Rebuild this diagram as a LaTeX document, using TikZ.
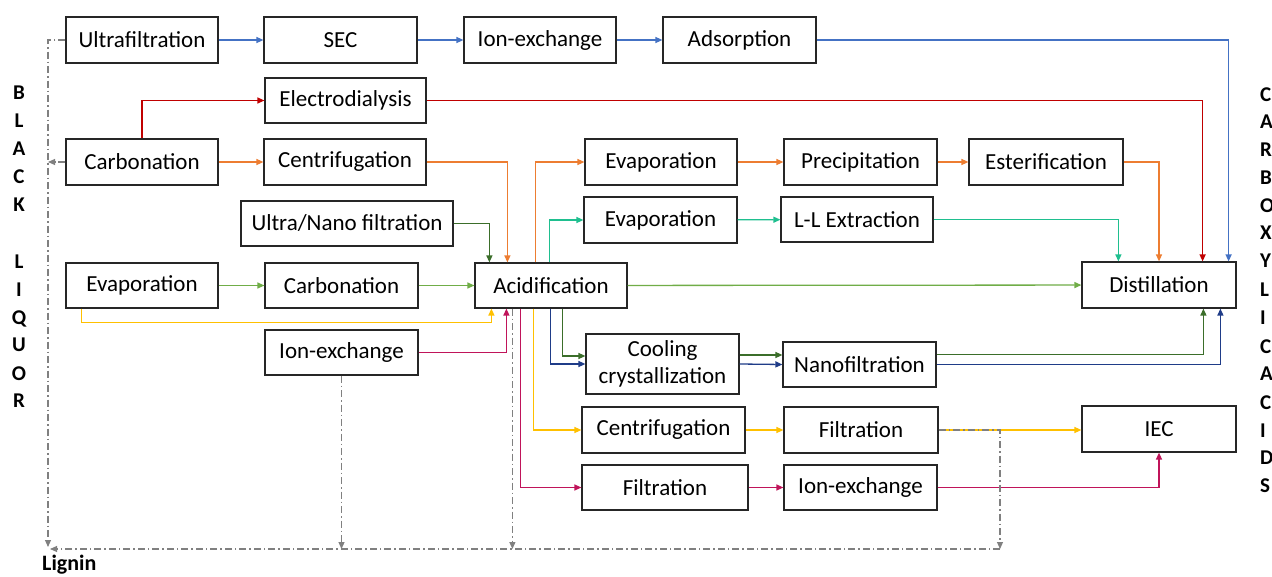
\documentclass[tikz,border=0pt]{standalone}
\usepackage{fontspec}
\setmainfont{Carlito}
\usetikzlibrary{arrows.meta}
\definecolor{cblue}{HTML}{4472C4}
\definecolor{cred}{HTML}{C00000}
\definecolor{corange}{HTML}{ED7D31}
\definecolor{cgreen}{HTML}{70AD47}
\definecolor{cdgreen}{HTML}{3B6E2A}
\definecolor{cteal}{HTML}{1FBF8F}
\definecolor{cnavy}{HTML}{1F3C88}
\definecolor{cyellow}{HTML}{FFC000}
\definecolor{cpink}{HTML}{C0145A}
\definecolor{cgray}{HTML}{808080}
\tikzset{
  box/.style={draw=black!85, line width=1.2pt, fill=white, inner sep=0pt, align=center,
    font=\fontsize{23}{27}\selectfont},
  flow/.style={line width=1.3pt, -{Triangle[length=7pt,width=6pt]}},
  ligline/.style={draw=cgray, line width=1.1pt, dash pattern=on 7pt off 3pt on 1.5pt off 3pt},
  ligarrow/.style={ligline, -{Triangle[length=7pt,width=6pt]}, cgray},
  sidelet/.style={font=\fontsize{21}{25}\selectfont\bfseries, inner sep=0pt},
}
\begin{document}
\begin{tikzpicture}[x=1pt,y=-1pt]
\fill[white] (0,0) rectangle (1272,577);
\useasboundingbox (0,0) rectangle (1272,577);

% boxes
\node[box, minimum width=152pt, minimum height=46pt] (uf) at (142,40) {Ultrafiltration};
\node[box, minimum width=153pt, minimum height=46pt] (sec) at (340.5,40) {SEC};
\node[box, minimum width=152pt, minimum height=46pt] (ix1) at (540,40) {Ion-exchange};
\node[box, minimum width=153pt, minimum height=46pt] (ads) at (739.5,40) {Adsorption};
\node[box, minimum width=161pt, minimum height=45pt] (ed) at (345.5,100.5) {Electrodialysis};
\node[box, minimum width=152pt, minimum height=46pt] (carb1) at (142,162) {Carbonation};
\node[box, minimum width=162pt, minimum height=46pt] (cent1) at (345,162) {Centrifugation};
\node[box, minimum width=152pt, minimum height=46pt] (evap1) at (661,162) {Evaporation};
\node[box, minimum width=153pt, minimum height=46pt] (prec) at (860.5,162) {Precipitation};
\node[box, minimum width=154pt, minimum height=46pt] (est) at (1046,162) {Esterification};
\node[box, minimum width=212pt, minimum height=45pt] (un) at (347,223.5) {Ultra/Nano filtration};
\node[box, minimum width=153pt, minimum height=46pt] (evap2) at (660.5,220) {Evaporation};
\node[box, minimum width=152pt, minimum height=45pt] (ll) at (857,219.5) {L-L Extraction};
\node[box, minimum width=152pt, minimum height=45pt] (evap3) at (142,285.5) {Evaporation};
\node[box, minimum width=153pt, minimum height=45pt] (carb2) at (341.5,285.5) {Carbonation};
\node[box, minimum width=152pt, minimum height=45pt] (acid) at (551,285.5) {Acidification};
\node[box, minimum width=154pt, minimum height=46pt] (dist) at (1159,285) {Distillation};
\node[box, minimum width=153pt, minimum height=45pt] (ix2) at (341.5,352.5) {Ion-exchange};
\node[box, minimum width=153pt, minimum height=60pt] (cool) at (662.5,364) {Cooling\\crystallization};
\node[box, minimum width=153pt, minimum height=45pt] (nano) at (859.5,364.5) {Nanofiltration};
\node[box, minimum width=163pt, minimum height=46pt] (cent2) at (663.5,430) {Centrifugation};
\node[box, minimum width=154pt, minimum height=46pt] (filt1) at (861,430) {Filtration};
\node[box, minimum width=154pt, minimum height=46pt] (iec) at (1159,429) {IEC};
\node[box, minimum width=166pt, minimum height=45pt] (filt2) at (665,487.5) {Filtration};
\node[box, minimum width=153pt, minimum height=45pt] (ix3) at (860.5,487.5) {Ion-exchange};

% lignin coordinates
\coordinate (lb) at (48,549);
\coordinate (lr) at (1000,549);
\node[font=\fontsize{22}{26}\selectfont\bfseries, inner sep=0pt, anchor=base west] (lig) at (42,570) {Lignin};

% side letters
\foreach \ch/\yy [count=\n] in {B/93,L/121,A/149,C/177,K/205,L/262,I/290,Q/318,U/345,O/373,R/400}
  \node[sidelet, anchor=base] (bl\n) at (19,\yy+7) {\ch};
\foreach \ch/\yy [count=\n] in {C/95,A/122,R/150,B/178,O/206,X/233,Y/261,L/290,I/318,C/346,A/374,C/402,I/430,D/457,S/485}
  \node[sidelet, anchor=base west] (ca\n) at (1260,\yy+7) {\ch};

% blue chain
\draw[flow, cblue] (uf) -- (sec);
\draw[flow, cblue] (sec) -- (ix1);
\draw[flow, cblue] (ix1) -- (ads);
\draw[flow, cblue] (ads.east) -| ([xshift=-8pt]dist.north east);

% red
\draw[flow, cred] (carb1.north) |- (ed.west);
\draw[flow, cred] (ed.east) -| ([xshift=-34pt]dist.north east);

% orange
\draw[flow, corange] (carb1) -- (cent1);
\draw[flow, corange] (cent1.east) -| ([xshift=33pt]acid.north west);
\draw[flow, corange] ([xshift=61pt]acid.north west) |- (evap1.west);
\draw[flow, corange] (evap1) -- (prec);
\draw[flow, corange] (prec) -- (est);
\draw[flow, corange] (est.east) -| (dist.north);

% dark green from ultra/nano
\draw[flow, cdgreen] (un.east) -| ([xshift=15pt]acid.north west);

% teal
\draw[flow, cteal] ([xshift=75pt]acid.north west) |- (evap2.west);
\draw[flow, cteal] (evap2) -- (ll);
\draw[flow, cteal] (ll.east) -| ([xshift=37pt]dist.north west);

% light green
\draw[flow, cgreen] (evap3) -- (carb2);
\draw[flow, cgreen] (carb2) -- (acid);
\draw[flow, cgreen] (acid) -- (dist);

% yellow
\draw[flow, cyellow] ([xshift=16pt]evap3.south west) -- ++(0,14) -| ([xshift=17pt]acid.south west);
\draw[flow, cyellow] ([xshift=59pt]acid.south west) |- (cent2.west);
\draw[flow, cyellow] (cent2) -- (filt1);
\draw[flow, cyellow] (filt1.east) -- (filt1.east -| iec.west);

% pink
\draw[flow, cpink] (ix2.east) -| ([xshift=32pt]acid.south west);
\draw[flow, cpink] ([xshift=46pt]acid.south west) |- (filt2.west);
\draw[flow, cpink] (filt2) -- (ix3);
\draw[flow, cpink] (ix3.east) -| (iec.south);

% cooling / nano
\draw[flow, cdgreen] ([xshift=88pt]acid.south west) |- ([yshift=8pt]cool.west);
\draw[flow, cnavy] ([xshift=76pt]acid.south west) |- (cool.west);
\draw[flow, cdgreen] ([yshift=9pt]cool.east) -- ([yshift=9pt]cool.east -| nano.west);
\draw[flow, cnavy] (cool.east) -- (nano.west);
\draw[flow, cdgreen] ([yshift=10pt]nano.east) -| ([xshift=122pt]dist.south west);
\draw[flow, cnavy] (nano.east) -| ([xshift=139pt]dist.south west);

% lignin dashed lines
\draw[ligarrow] (uf.west) -| ([yshift=2pt]lb);
\draw[ligarrow] (carb1.west) -- (carb1.west -| lb);
\draw[ligarrow] (ix2.south) -- (ix2.south |- lb);
\draw[ligarrow] ([xshift=38pt]acid.south west) -- ([xshift=38pt]acid.south west |- lb);
\draw[ligarrow] (filt1.east) -| (lr);
\draw[ligarrow] (lr) -- ([xshift=2pt]lb);
\end{tikzpicture}
\end{document}
